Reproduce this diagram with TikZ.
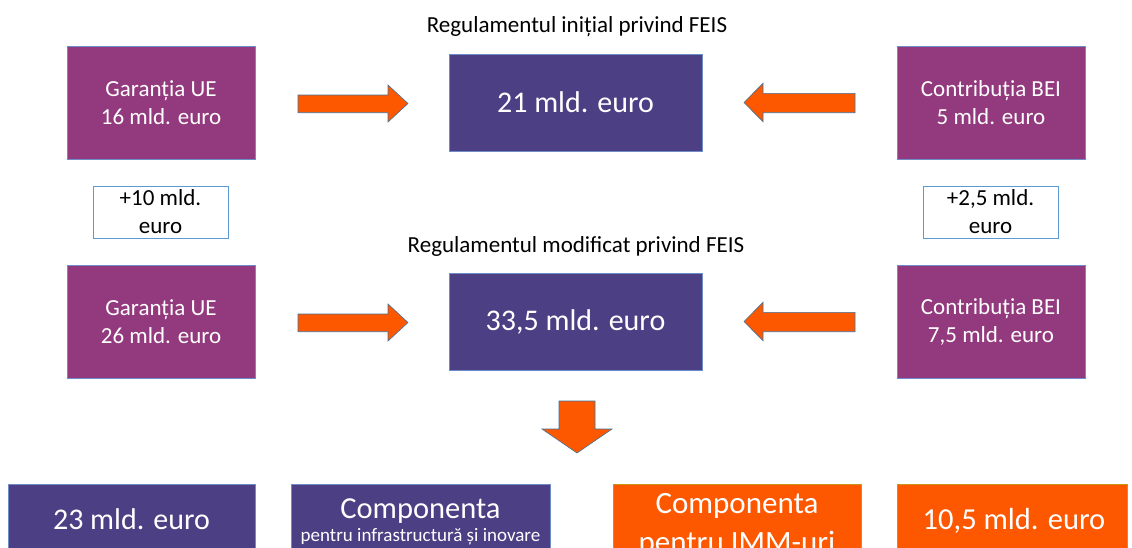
\documentclass[tikz,border=0pt]{standalone}
\usepackage{fontspec}
\setmainfont{Carlito}
\definecolor{plum}{RGB}{147,57,125}
\definecolor{indigo}{RGB}{77,63,132}
\definecolor{orng}{RGB}{253,88,0}
\definecolor{lblue}{RGB}{110,140,200}
\definecolor{arrline}{RGB}{65,113,156}
\definecolor{sline}{RGB}{91,155,213}
\definecolor{oline}{RGB}{200,150,20}
\newcommand{\fs}[2]{\fontsize{#1}{#2}\selectfont}
\tikzset{
  box/.style={draw=lblue, line width=0.7pt, inner sep=0pt, align=center, text=white},
  pbox/.style={box, fill=plum, minimum width=188pt, minimum height=113pt, font=\fs{23}{28}},
  cbox/.style={box, fill=indigo, minimum width=253pt, minimum height=97pt, font=\fs{30}{36}},
  sbox/.style={draw=sline, line width=0.7pt, fill=white, inner sep=0pt, align=center, minimum width=135pt, minimum height=52pt, font=\fs{23}{28}},
  botd/.style={box, fill=indigo, minimum height=90pt},
  boto/.style={box, draw=oline, fill=orng, minimum height=90pt},
  blockarrow/.style={fill=orng, draw=arrline, line width=0.6pt},
  ttl/.style={inner sep=0pt, font=\fs{23}{27}},
  lbl/.style={inner sep=0pt, text=white, anchor=base}
}
\begin{document}
\begin{tikzpicture}[x=1pt,y=-1pt]
\useasboundingbox (0,0) rectangle (1132,547);
\clip (0,0) rectangle (1132,547);
\fill[white] (0,0) rectangle (1132,547);
% titles
\node[ttl] (t1) at (577,27) {Regulamentul inițial privind FEIS};
\node[ttl] (t2) at (576,246) {Regulamentul modificat privind FEIS};
% row 1
\node[pbox] (g1) at (161,102.5) {Garanția UE\\16 mld. euro};
\node[cbox] (c1) at (575.5,102.5) {21 mld. euro};
\node[pbox] (b1) at (991,102.5) {Contribuția BEI\\5 mld. euro};
% increments
\node[sbox] (s1) at (160.5,212) {+10 mld.\\euro};
\node[sbox] (s2) at (990.5,212) {+2,5 mld.\\euro};
% row 2
\node[pbox] (g2) at (161,321.5) {Garanția UE\\26 mld. euro};
\node[cbox] (c2) at (575.5,321.5) {33,5 mld. euro};
\node[pbox] (b2) at (991,321.5) {Contribuția BEI\\7,5 mld. euro};
% block arrows
\filldraw[blockarrow] (298,95) -- (388,95) -- (388,85) -- (408,103.5) -- (388,122) -- (388,112.7) -- (298,112.7) -- cycle;
\filldraw[blockarrow] (855,93.3) -- (763,93.3) -- (763,83.3) -- (744,102.5) -- (763,121.7) -- (763,112.7) -- (855,112.7) -- cycle;
\filldraw[blockarrow] (298,314) -- (388,314) -- (388,304) -- (408,322.5) -- (388,341) -- (388,331.7) -- (298,331.7) -- cycle;
\filldraw[blockarrow] (855,312.3) -- (763,312.3) -- (763,302.3) -- (744,321.5) -- (763,340.7) -- (763,331.7) -- (855,331.7) -- cycle;
\filldraw[blockarrow] (559,401) -- (595,401) -- (595,429) -- (612,429) -- (577,453) -- (542,429) -- (559,429) -- cycle;
% bottom boxes
\node[botd, minimum width=247pt] (d1) at (131.5,529) {};
\node[botd, minimum width=259pt] (d2) at (420.5,529) {};
\node[boto, minimum width=248pt] (o1) at (737,529) {};
\node[boto, minimum width=230pt] (o2) at (1012,529) {};
\node[lbl, font=\fs{30}{36}] (d1t) at (131.5,529) {23 mld. euro};
\node[lbl, font=\fs{30.5}{36}] (d2a) at (420.5,518) {Componenta};
\node[lbl, font=\fs{19}{23}] (d2b) at (420.5,541) {pentru infrastructură și inovare};
\node[lbl, font=\fs{31}{38}] (o1a) at (737,513) {Componenta};
\node[lbl, font=\fs{31}{38}] (o1b) at (737,552) {pentru IMM-uri};
\node[lbl, font=\fs{30.5}{36}] (o2t) at (1014,529) {10,5 mld. euro};
\end{tikzpicture}
\end{document}
